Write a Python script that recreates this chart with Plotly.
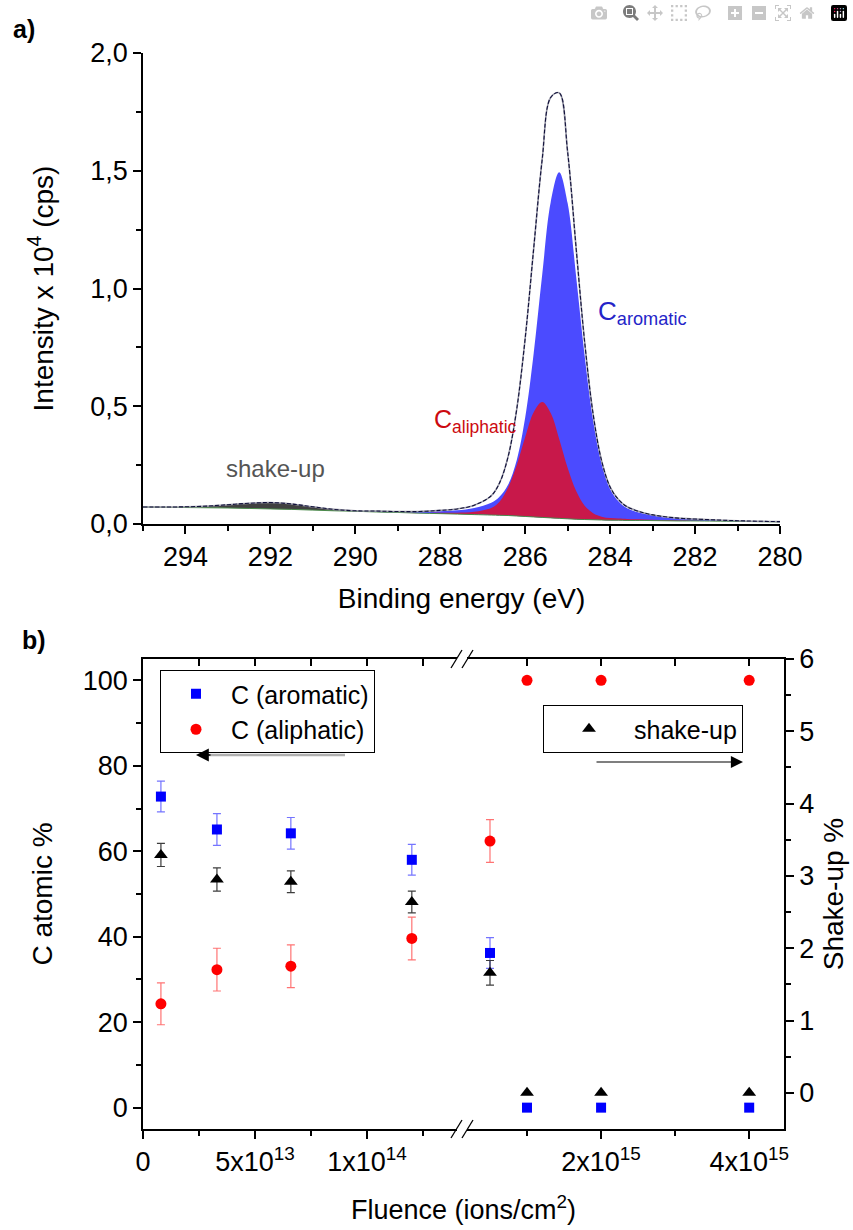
import plotly.graph_objects as go

# ---------------- panel a : XPS C1s spectrum ----------------
energy = [295.0, 294.5, 294.0, 293.5, 293.0, 292.5, 292.0, 291.5, 291.0, 290.5,
          290.0, 289.5, 289.0, 288.5, 288.0, 287.6, 287.2, 286.8, 286.6, 286.4,
          286.2, 286.0, 285.8, 285.6, 285.4, 285.2, 285.0, 284.8, 284.6, 284.4,
          284.2, 284.0, 283.8, 283.6, 283.2, 282.8, 282.4, 282.0, 281.0, 280.0]
background = [0.072, 0.071, 0.070, 0.069, 0.068, 0.066, 0.064, 0.062, 0.059, 0.056,
              0.054, 0.051, 0.049, 0.046, 0.044, 0.042, 0.040, 0.038, 0.037, 0.036,
              0.034, 0.032, 0.030, 0.028, 0.026, 0.024, 0.022, 0.020, 0.019, 0.018,
              0.017, 0.016, 0.016, 0.015, 0.015, 0.014, 0.013, 0.013, 0.011, 0.009]
aromatic_peak = [0, 0, 0, 0, 0, 0, 0, 0, 0, 0,
                 0, 0.003, 0.004, 0.007, 0.010, 0.016, 0.028, 0.052, 0.080, 0.132,
                 0.237, 0.42, 0.695, 1.03, 1.34, 1.47, 1.34, 1.03, 0.695, 0.42,
                 0.237, 0.132, 0.080, 0.052, 0.028, 0.016, 0.010, 0.007, 0.003, 0.001]
aliphatic_peak = [0, 0, 0, 0, 0, 0, 0, 0, 0, 0,
                  0, 0, 0, 0, 0.004, 0.006, 0.012, 0.030, 0.059, 0.120,
                  0.216, 0.337, 0.445, 0.49, 0.445, 0.337, 0.216, 0.120, 0.059, 0.028,
                  0.014, 0.009, 0.007, 0.006, 0.004, 0.003, 0.002, 0.001, 0, 0]
shakeup_peak = [0, 0.001, 0.003, 0.007, 0.014, 0.022, 0.027, 0.023, 0.014, 0.006,
                0.002, 0.001, 0, 0, 0, 0, 0, 0, 0, 0,
                0, 0, 0, 0, 0, 0, 0, 0, 0, 0,
                0, 0, 0, 0, 0, 0, 0, 0, 0, 0]
energy_ticks = [294, 292, 290, 288, 286, 284, 282, 280]
energy_minor = [295, 293, 291, 289, 287, 285, 283, 281]
intensity_ticks = [0, 0.5, 1.0, 1.5, 2.0]
intensity_minor = [0.25, 0.75, 1.25, 1.75]

# ---------------- panel b : composition vs fluence ----------------
fluence = [8e12, 3.3e13, 6.6e13, 1.2e14, 5e14, 1e15, 2e15, 4e15]
c_aromatic = [72.8, 65.1, 64.2, 58.0, 36.2, 0, 0, 0]
c_aromatic_err = [3.6, 3.7, 3.7, 3.6, 3.6, 0, 0, 0]
c_aliphatic = [24.3, 32.3, 33.1, 39.6, 62.4, 100, 100, 100]
c_aliphatic_err = [4.9, 5.0, 5.0, 5.0, 5.0, 0, 0, 0]
shake_up = [3.29, 2.95, 2.92, 2.64, 1.66, 0, 0, 0]
shake_up_err = [0.16, 0.16, 0.15, 0.15, 0.17, 0, 0, 0]

left_ticks = [0, 5e13, 1e14]
left_ticktext = ["0", "5x10<sup>13</sup>", "1x10<sup>14</sup>"]
left_minor = [2.5e13, 7.5e13, 1.25e14]
right_ticks = [2e15, 4e15]
right_ticktext = ["2x10<sup>15</sup>", "4x10<sup>15</sup>"]
right_minor = [1e15, 3e15]
left_range = [0, 1.424e14]
right_range = [1.22e14, 4.47e15]
catom_ticks = [0, 20, 40, 60, 80, 100]
catom_minor = [10, 30, 50, 70, 90]
shake_ticks = [0, 1, 2, 3, 4, 5, 6]
shake_minor = [0.5, 1.5, 2.5, 3.5, 4.5, 5.5]

# ---------------- geometry (pixels of the 853x1230 canvas) ----------------
W, H = 853, 1230
PL, PR, PT, PB = 143, 784, 53, 1129          # overall plot area
A_R, A_B = 780, 524                          # panel a right / bottom
B_BRK, B_T = 462, 659                        # panel b break / top

def fx(p):
    return (p - PL) / (PR - PL)

def fy(p):
    return (PB - p) / (PB - PT)

FONT = "Arial, 'Liberation Sans', sans-serif"
TICK = 27
TITLE = 28

fig = go.Figure()

# ---- panel a traces ----
def add(vals):
    return [b + v for b, v in zip(background, vals)]

envelope = [b + a + r + s for b, a, r, s in zip(background, aromatic_peak, aliphatic_peak, shakeup_peak)]

base = dict(mode="lines", showlegend=False, hoverinfo="skip", xaxis="x", yaxis="y")
fig.add_trace(go.Scatter(x=energy, y=background, line=dict(width=0, shape="spline"), **base))
fig.add_trace(go.Scatter(x=energy, y=add(aromatic_peak), fill="tonexty", fillcolor="#4b4bff",
                         line=dict(width=0, shape="spline", color="#4b4bff"), **base))
fig.add_trace(go.Scatter(x=energy, y=background, line=dict(width=0, shape="spline"), **base))
fig.add_trace(go.Scatter(x=energy, y=add(aliphatic_peak), fill="tonexty", fillcolor="#c8184a",
                         line=dict(width=0, shape="spline", color="#c8184a"), **base))
fig.add_trace(go.Scatter(x=energy, y=background, line=dict(width=0, shape="spline"), **base))
fig.add_trace(go.Scatter(x=energy, y=add(shakeup_peak), fill="tonexty", fillcolor="#404040",
                         line=dict(width=0, shape="spline", color="#404040"), **base))
fig.add_trace(go.Scatter(x=energy, y=background, line=dict(width=1, shape="spline", color="#4a8a4a"), **base))
fig.add_trace(go.Scatter(x=energy, y=envelope, line=dict(width=1.6, shape="spline", color="#9a9aa8"), **base))
fig.add_trace(go.Scatter(x=energy, y=envelope, line=dict(width=1.1, shape="spline", color="#10103a", dash="4px,2px"), **base))

# ---- panel b traces ----
LEFT_MAX = left_range[1]

def seg(vals, left):
    return [v for f, v in zip(fluence, vals) if (f <= LEFT_MAX) == left]

series = [
    ("C (aromatic)", c_aromatic, c_aromatic_err, "square", 10, "#0000ff", "rgba(70,70,255,0.75)", "y2", "legend"),
    ("C (aliphatic)", c_aliphatic, c_aliphatic_err, "circle", 11, "#ff0000", "rgba(255,80,80,0.8)", "y2", "legend"),
    ("shake-up", shake_up, shake_up_err, "triangle-up", 12, "#000000", "rgba(40,40,40,0.9)", "y3", "legend2"),
]
for name, vals, errs, sym, size, col, ecol, yax, leg in series:
    for left, xax in ((True, "x2"), (False, "x3")):
        fig.add_trace(go.Scatter(
            x=seg(fluence, left), y=seg(vals, left), mode="markers", name=name,
            marker=dict(symbol=sym, size=size, color=col, line=dict(width=0)),
            error_y=dict(type="data", array=seg(errs, left), color=ecol, thickness=1.2, width=4),
            xaxis=xax, yaxis=yax, legend=leg, legendgroup=name, showlegend=left,
            hoverinfo="x+y"))

# empty traces registering the top (mirror) axes of panel b
fig.add_trace(go.Scatter(x=[], y=[], xaxis="x4", yaxis="y2", showlegend=False, hoverinfo="skip"))
fig.add_trace(go.Scatter(x=[], y=[], xaxis="x5", yaxis="y2", showlegend=False, hoverinfo="skip"))

common = dict(showline=True, linecolor="black", linewidth=1.5, ticks="outside", ticklen=8,
              tickwidth=1.5, tickcolor="black", showgrid=False, zeroline=False, automargin=False,
              tickfont=dict(size=TICK, color="black", family=FONT),
              title_font=dict(size=TITLE, color="black", family=FONT))

def minor(vals):
    return dict(tickmode="array", tickvals=vals, ticks="outside", ticklen=5, tickwidth=1.5, tickcolor="black")

top_common = dict(side="top", anchor="y2", showline=True, linecolor="black", linewidth=1.5,
                  ticks="inside", ticklen=7, tickwidth=1.5, tickcolor="black", tickmode="array",
                  showticklabels=False, showgrid=False, zeroline=False, automargin=False)

fig.update_layout(
    template="none",
    width=W, height=H, margin=dict(l=PL, r=W - PR, t=PT, b=H - PB, pad=0),
    paper_bgcolor="white", plot_bgcolor="rgba(0,0,0,0)",
    separators=", ",
    font=dict(family=FONT, size=TICK, color="black"),
    xaxis=dict(domain=[0, fx(A_R)], anchor="y", range=[295, 280],
               tickmode="array", tickvals=energy_ticks, minor=minor(energy_minor),
               title=dict(text="Binding energy (eV)", standoff=17), **common),
    yaxis=dict(domain=[fy(A_B), 1], anchor="x", range=[0, 2.0],
               tickmode="array", tickvals=intensity_ticks, tickformat=".1f",
               minor=minor(intensity_minor),
               title=dict(text="Intensity x 10<sup>4</sup> (cps)", standoff=29), **common),
    xaxis2=dict(domain=[0, fx(B_BRK)], anchor="y2", range=left_range,
                tickmode="array", tickvals=left_ticks, ticktext=left_ticktext,
                minor=minor(left_minor), **common),
    xaxis3=dict(domain=[fx(B_BRK), 1], anchor="y2", range=right_range,
                tickmode="array", tickvals=right_ticks, ticktext=right_ticktext,
                minor=minor(right_minor), **common),
    xaxis4=dict(overlaying="x2", range=left_range, tickvals=left_ticks + left_minor, **top_common),
    xaxis5=dict(overlaying="x3", range=right_range, tickvals=right_ticks + right_minor, **top_common),
    yaxis2=dict(domain=[0, fy(B_T)], anchor="x2", range=[-5, 105],
                tickmode="array", tickvals=catom_ticks, minor=minor(catom_minor),
                title=dict(text="C atomic %", standoff=22), **common),
    yaxis3=dict(overlaying="y2", side="right", anchor="x3", range=[-0.5, 6],
                tickmode="array", tickvals=shake_ticks, minor=minor(shake_minor),
                title=dict(text="Shake-up %", standoff=10), **common),
    legend=dict(x=fx(160), y=fy(670), xanchor="left", yanchor="top", bgcolor="white",
                bordercolor="black", borderwidth=1, itemwidth=60, tracegroupgap=0,
                font=dict(size=25, family=FONT, color="black")),
    legend2=dict(x=fx(543), y=fy(705), xanchor="left", yanchor="top", bgcolor="white",
                 bordercolor="black", borderwidth=1, itemwidth=80, tracegroupgap=0,
                 font=dict(size=25, family=FONT, color="black")),
)

# ---- axis break marks and arrow shaft ----
shapes = []
for yanc in (0, 1):
    shapes.append(dict(type="line", xref="x2 domain", yref="y2 domain", xanchor=1, yanchor=yanc,
                       xsizemode="pixel", ysizemode="pixel", x0=-5, x1=5, y0=0, y1=0,
                       line=dict(color="white", width=4)))
    for off in (-11, 0):
        shapes.append(dict(type="line", xref="x2 domain", yref="y2 domain", xanchor=1, yanchor=yanc,
                           xsizemode="pixel", ysizemode="pixel", x0=off, x1=off + 11, y0=-9, y1=9,
                           line=dict(color="black", width=1.3)))
shapes.append(dict(type="line", xref="paper", yref="paper", x0=fx(205), x1=fx(345), y0=fy(755), y1=fy(755),
                   line=dict(color="#b0b0b0", width=2.5)))
fig.update_layout(shapes=shapes)

ann = []
def text(t, x, y, size, color="black", xanchor="left"):
    ann.append(dict(text=t, x=fx(x), y=fy(y), xref="paper", yref="paper", xanchor=xanchor,
                    yanchor="middle", showarrow=False, font=dict(size=size, family=FONT, color=color)))

text("<b>a)</b>", 11, 29, 25)
text("<b>b)</b>", 20, 640, 25)
text("C<sub>aromatic</sub>", 596, 312, 26, "#2424c8")
text("C<sub>aliphatic</sub>", 432, 421, 25, "#cc0a10")
text("shake-up", 224, 468, 24, "#555555")
text("Fluence (ions/cm<sup>2</sup>)", 463, 1208, 27, xanchor="center")
# arrow heads
ann.append(dict(text="", x=fx(196), y=fy(755), xref="paper", yref="paper", ax=16, ay=0,
                showarrow=True, arrowhead=2, arrowsize=1.6, arrowwidth=1.6, arrowcolor="black"))
ann.append(dict(text="", x=fx(743), y=fy(762), xref="paper", yref="paper", ax=-148, ay=0,
                showarrow=True, arrowhead=2, arrowsize=2.2, arrowwidth=1.1, arrowcolor="black"))
fig.update_layout(annotations=ann)

fig.write_html("out.html", post_script="document.body.style.margin='0';")
